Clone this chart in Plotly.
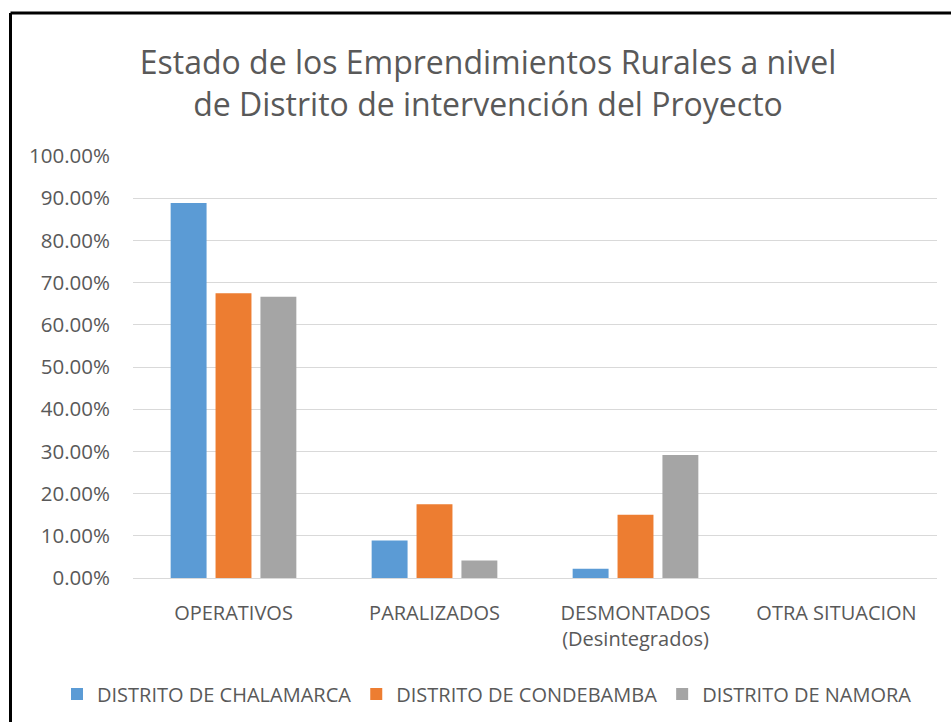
import plotly.graph_objects as go

categories = ["OPERATIVOS", "PARALIZADOS", "DESMONTADOS<br>(Desintegrados)", "OTRA SITUACION"]
series_names = ["DISTRITO DE CHALAMARCA", "DISTRITO DE CONDEBAMBA", "DISTRITO DE NAMORA"]
chalamarca = [0.8889, 0.0889, 0.0222, 0.0]
condebamba = [0.675, 0.175, 0.15, 0.0]
namora = [0.6667, 0.0417, 0.2917, 0.0]
colors = ["#5B9BD5", "#ED7D31", "#A5A5A5"]
y_ticks = [0, 0.1, 0.2, 0.3, 0.4, 0.5, 0.6, 0.7, 0.8, 0.9, 1.0]

W, H = 951, 722
L, R, T, B = 133, 14, 156, 144
pw, ph = W - L - R, H - T - B

def px_x(x):
    return (x - L) / pw

def px_y(y):
    return (H - B - y) / ph

FONT = "Open Sans"
GREY = "#595959"

fig = go.Figure()
for name, vals, c in zip(series_names, [chalamarca, condebamba, namora], colors):
    fig.add_trace(go.Bar(name=name, x=categories, y=vals, marker=dict(color=c, line=dict(width=0))))

fig.update_layout(
    width=W, height=H,
    margin=dict(l=L, r=R, t=T, b=B, autoexpand=False),
    paper_bgcolor="white", plot_bgcolor="white",
    barmode="group", bargap=0.33, bargroupgap=0.2,
    title=dict(
        text="Estado de los Emprendimientos Rurales a nivel<br>de Distrito de intervención del Proyecto",
        x=px_x(488), xref="paper", xanchor="center",
        y=1 - 74 / H, yref="container", yanchor="middle",
        font=dict(family=FONT, size=32, color=GREY),
    ),
    font=dict(family=FONT, color=GREY),
    legend=dict(
        orientation="h", xref="paper", yref="paper",
        x=px_x(57), xanchor="left", y=px_y(694), yanchor="middle",
        font=dict(family=FONT, size=20, color=GREY), traceorder="normal",
        itemwidth=30, bgcolor="rgba(0,0,0,0)",
    ),
    showlegend=True,
)
fig.update_yaxes(
    range=[0, 1], tickvals=y_ticks, tickformat=".2%",
    showgrid=True, gridcolor="#D9D9D9", gridwidth=1,
    zeroline=True, zerolinecolor="#D9D9D9", zerolinewidth=1,
    showline=False, ticks="", ticklabelstandoff=22,
    tickfont=dict(family=FONT, size=20.5, color=GREY),
)
fig.update_xaxes(
    showline=False, ticks="", ticklabelstandoff=21,
    tickfont=dict(family=FONT, size=20, color=GREY),
)
# chart frame (left and top edges visible)
fig.add_shape(type="line", xref="paper", yref="paper",
              x0=px_x(10.5), x1=px_x(960), y0=px_y(13), y1=px_y(13),
              line=dict(color="black", width=3))
fig.add_shape(type="line", xref="paper", yref="paper",
              x0=px_x(10.5), x1=px_x(10.5), y0=px_y(13), y1=px_y(735),
              line=dict(color="black", width=3))

fig.write_html("out.html", config={"displayModeBar": False},
               post_script="document.body.style.margin='0';")
